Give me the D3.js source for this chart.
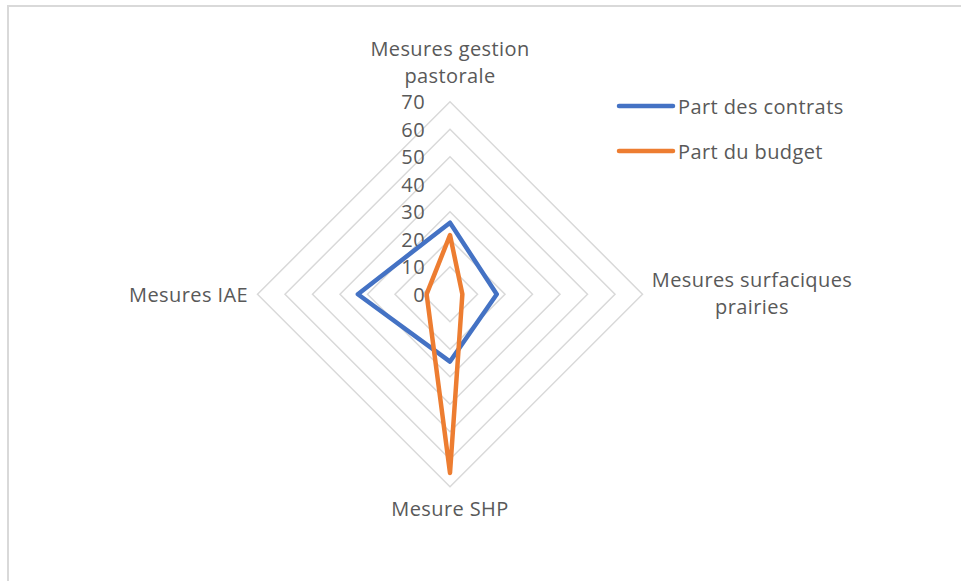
<!DOCTYPE html>
<html>
<head>
<meta charset="utf-8">
<script src="https://cdn.jsdelivr.net/npm/d3@7.9.0/dist/d3.min.js"></script>
<style>
  body { margin: 0; background: #fff; }
  svg text { font-family: "Open Sans", sans-serif; fill: #595959; letter-spacing: 0.4px; }
</style>
</head>
<body>
<svg id="chart" width="961" height="581"></svg>
<script>
// axis labels (one entry per axis, split in lines as shown)
const categories = [
  ["Mesures gestion", "pastorale"],
  ["Mesures surfaciques", "prairies"],
  ["Mesure SHP"],
  ["Mesures IAE"]
];
const seriesNames = ["Part des contrats", "Part du budget"];
const contrats = [26, 17, 24.5, 33.5];
const budget = [21.5, 4.5, 65, 8.5];
const ticks = [0, 10, 20, 30, 40, 50, 60, 70];
const colors = ["#4472C4", "#ED7D31"];

const svg = d3.select('#chart');
const cx = 450, cy = 294.2;
const fontSize = 20;

// frame of the chart area
svg.append('path')
  .attr('d', 'M8,581 V6 H961')
  .attr('fill', 'none')
  .attr('stroke', '#d9d9d9')
  .attr('stroke-width', 2);

// radius scale
const r = d3.scaleLinear().domain([0, 70]).range([0, 192.5]);

// angle per axis: start at top, go clockwise
const angle = d3.scaleLinear().domain([0, categories.length]).range([0, 2 * Math.PI]);
function point(i, v) {
  const a = angle(i);
  return [cx + r(v) * Math.sin(a), cy - r(v) * Math.cos(a)];
}

const g = svg.append('g');

// grid rings (diamonds)
g.selectAll('.ring')
  .data(ticks.filter(t => t > 0))
  .join('path')
  .attr('class', 'ring')
  .attr('d', t => d3.line()(categories.map((c, i) => point(i, t))) + 'Z')
  .attr('fill', 'none')
  .attr('stroke', '#d9d9d9')
  .attr('stroke-width', 1.5);

// tick labels
g.selectAll('.tick')
  .data(ticks)
  .join('text')
  .attr('class', 'tick')
  .attr('x', 425)
  .attr('y', t => cy - r(t) + 7.5)
  .attr('text-anchor', 'end')
  .attr('font-size', fontSize)
  .text(t => t);

// series lines
const series = [contrats, budget];
g.selectAll('.serie')
  .data(series)
  .join('path')
  .attr('class', 'serie')
  .attr('d', s => d3.line()(s.map((v, i) => point(i, v))) + 'Z')
  .attr('fill', 'none')
  .attr('stroke', (s, i) => colors[i])
  .attr('stroke-width', 4.5)
  .attr('stroke-linejoin', 'round');

// axis labels
const labelPos = [
  { x: 450, y: 56, anchor: 'middle' },
  { x: 752, y: 287, anchor: 'middle' },
  { x: 450, y: 516, anchor: 'middle' },
  { x: 248, y: 302, anchor: 'end' }
];
categories.forEach((lines, i) => {
  const p = labelPos[i];
  const t = svg.append('text')
    .attr('x', p.x)
    .attr('y', p.y)
    .attr('text-anchor', p.anchor)
    .attr('font-size', fontSize);
  lines.forEach((ln, j) => {
    t.append('tspan')
      .attr('x', p.x)
      .attr('dy', j === 0 ? 0 : 26.5)
      .text(ln);
  });
});

// legend
const legend = svg.append('g');
seriesNames.forEach((name, i) => {
  const y = 106 + i * 45;
  legend.append('line')
    .attr('x1', 619).attr('x2', 673)
    .attr('y1', y).attr('y2', y)
    .attr('stroke', colors[i])
    .attr('stroke-width', 4.5)
    .attr('stroke-linecap', 'round');
  legend.append('text')
    .attr('x', 678)
    .attr('y', y + 7.5)
    .attr('font-size', fontSize)
    .text(name);
});
</script>
</body>
</html>
